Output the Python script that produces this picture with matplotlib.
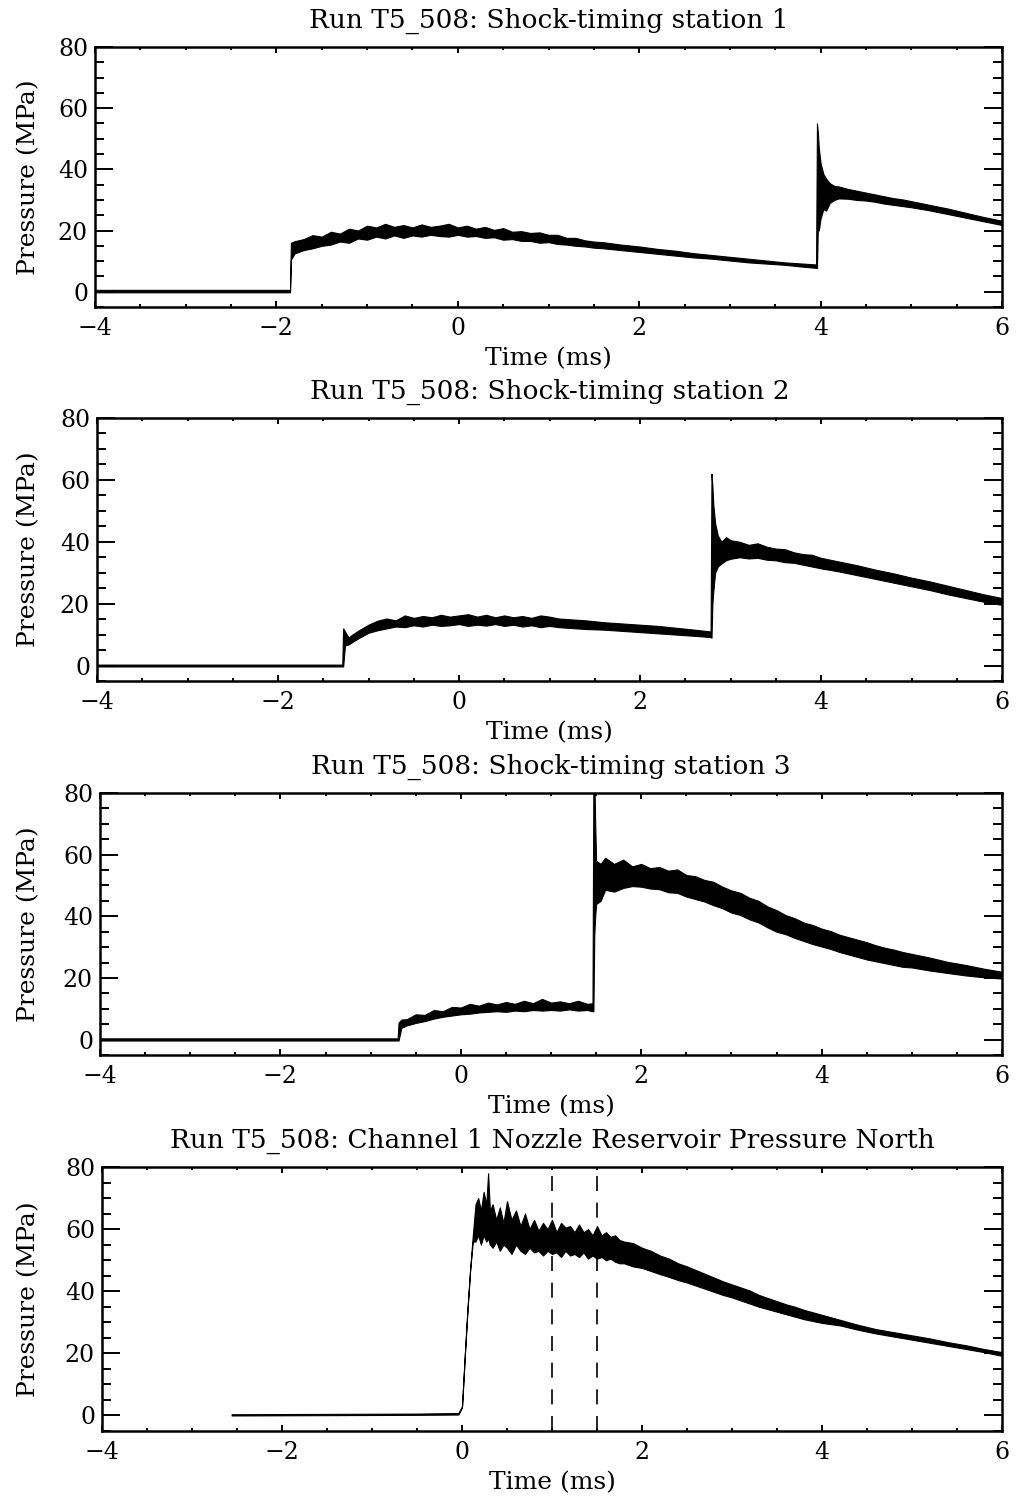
import numpy as np
import matplotlib.pyplot as plt
from matplotlib.ticker import MultipleLocator

plt.rcParams['font.family'] = 'DejaVu Serif'

# Shock-timing station 1: time (ms), lower and upper edge of the noisy trace (MPa)
t1 = [-4.0, -1.85, -1.84, -1.8, -1.7, -1.6, -1.5, -1.4, -1.3, -1.2, -1.1, -1.0, -0.9, -0.8, -0.7, -0.6,
      -0.5, -0.4, -0.3, -0.2, -0.1, 0.0, 0.1, 0.2, 0.3, 0.4, 0.5, 0.6, 0.7, 0.8, 0.9, 1.0, 1.1, 1.2,
      1.3, 1.4, 1.5, 1.6, 1.8, 2.0, 2.2, 2.4, 2.6, 2.8, 3.0, 3.2, 3.4, 3.6, 3.8, 3.95, 3.96, 3.97, 3.98,
      4.0, 4.03, 4.06, 4.1, 4.15, 4.2, 4.3, 4.4, 4.5, 4.6, 4.7, 4.8, 4.9, 5.0, 5.2, 5.4, 5.6, 5.8, 6.0]
hi1 = [0.6, 0.6, 16.0, 16.5, 17.2, 18.5, 18.0, 19.6, 19.0, 20.6, 20.0, 21.6, 21.0, 22.2, 21.2, 21.8,
       21.0, 22.0, 21.2, 21.6, 22.2, 21.0, 21.6, 20.6, 21.2, 20.2, 20.8, 19.6, 19.8, 19.2, 19.4, 18.6,
       18.6, 17.6, 17.6, 16.8, 16.4, 16.2, 15.4, 14.8, 14.0, 13.4, 12.6, 12.0, 11.4, 10.8, 10.2, 9.6,
       9.2, 8.9, 55.0, 52.0, 47.0, 42.0, 38.5, 37.0, 35.5, 34.6, 34.4, 33.6, 33.0, 32.4, 31.8, 31.2,
       30.6, 30.2, 29.6, 28.4, 27.2, 25.8, 24.4, 23.2]
lo1 = [-0.2, -0.2, 10.5, 12.5, 13.6, 14.2, 15.0, 15.4, 16.4, 16.0, 17.4, 17.0, 18.0, 17.4, 18.4, 17.6,
       18.4, 18.0, 18.6, 18.2, 18.0, 18.6, 18.0, 18.2, 17.6, 17.8, 17.0, 17.2, 16.6, 16.6, 16.0, 16.2,
       15.6, 15.4, 15.0, 14.8, 14.4, 14.2, 13.6, 13.0, 12.4, 11.8, 11.2, 10.8, 10.2, 9.6, 9.2, 8.8,
       8.2, 7.8, 7.8, 22.0, 20.0, 24.0, 27.0, 26.5, 29.0, 30.0, 30.5, 30.4, 30.0, 29.8, 29.4, 28.8,
       28.4, 28.0, 27.6, 26.6, 25.4, 24.2, 23.0, 21.8]

# Shock-timing station 2
t2 = [-4.0, -1.29, -1.28, -1.26, -1.22, -1.18, -1.1, -1.0, -0.9, -0.8, -0.7, -0.6, -0.5, -0.4, -0.3,
      -0.2, -0.1, 0.0, 0.1, 0.2, 0.3, 0.4, 0.5, 0.6, 0.7, 0.8, 0.9, 1.0, 1.1, 1.2, 1.4, 1.6, 1.8, 2.0,
      2.2, 2.4, 2.6, 2.78, 2.79, 2.80, 2.81, 2.83, 2.86, 2.9, 2.95, 3.0, 3.1, 3.2, 3.3, 3.4, 3.5, 3.6,
      3.7, 3.8, 3.9, 4.0, 4.2, 4.4, 4.6, 4.8, 5.0, 5.2, 5.4, 5.6, 5.8, 6.0]
hi2 = [0.3, 0.3, 12.0, 11.0, 9.0, 10.0, 11.5, 13.2, 14.5, 15.2, 14.6, 16.2, 15.4, 16.0, 15.6, 16.4,
       15.8, 16.2, 16.6, 15.8, 16.4, 15.6, 16.2, 15.6, 16.0, 15.4, 16.2, 15.8, 15.2, 15.0, 14.6, 14.0,
       13.6, 13.2, 12.8, 12.2, 11.6, 11.0, 62.0, 58.0, 52.0, 46.0, 42.0, 40.0, 41.5, 40.5, 40.0, 39.0,
       39.5, 38.4, 37.8, 37.6, 36.6, 36.0, 35.8, 34.8, 33.6, 32.4, 31.0, 29.8, 28.4, 27.2, 25.8, 24.4,
       23.0, 21.8]
lo2 = [-0.3, -0.3, -0.3, 6.5, 6.8, 7.6, 9.0, 10.6, 11.4, 12.0, 12.6, 12.4, 13.0, 12.6, 13.2, 12.8,
       13.0, 13.4, 12.8, 13.2, 12.9, 13.4, 12.8, 13.2, 12.6, 13.0, 12.4, 12.8, 12.4, 12.2, 11.8, 11.6,
       11.2, 10.8, 10.4, 10.0, 9.6, 9.2, 9.0, 20.0, 24.0, 30.0, 32.0, 33.0, 34.0, 34.5, 35.0, 34.6,
       34.8, 34.2, 34.0, 33.4, 33.2, 32.6, 32.0, 31.4, 30.4, 29.2, 28.0, 26.8, 25.6, 24.4, 23.0, 21.8,
       20.6, 19.6]

# Shock-timing station 3
t3 = [-4.0, -0.70, -0.69, -0.66, -0.6, -0.5, -0.4, -0.3, -0.2, -0.1, 0.0, 0.1, 0.2, 0.3, 0.4, 0.5,
      0.6, 0.7, 0.8, 0.9, 1.0, 1.1, 1.2, 1.3, 1.4, 1.46, 1.47, 1.48, 1.49, 1.5, 1.55, 1.6, 1.7, 1.8,
      1.9, 2.0, 2.1, 2.2, 2.3, 2.4, 2.5, 2.6, 2.7, 2.8, 2.9, 3.0, 3.1, 3.2, 3.3, 3.4, 3.5, 3.6, 3.7,
      3.8, 3.9, 4.0, 4.1, 4.2, 4.3, 4.4, 4.5, 4.6, 4.7, 4.8, 4.9, 5.0, 5.2, 5.4, 5.6, 5.8, 6.0]
hi3 = [0.4, 0.4, 5.5, 6.5, 6.6, 8.2, 8.0, 9.6, 9.2, 10.6, 10.4, 11.6, 11.0, 12.0, 11.4, 12.2, 11.6,
       12.6, 11.8, 13.2, 12.0, 12.4, 11.8, 12.6, 11.6, 11.8, 86.0, 86.0, 70.0, 58.0, 57.0, 59.0, 57.0,
       58.4, 56.2, 57.0, 55.6, 56.0, 54.8, 55.2, 53.4, 53.0, 51.8, 51.2, 49.6, 48.4, 47.6, 46.0, 45.0,
       43.2, 42.0, 40.4, 39.4, 38.0, 37.2, 36.0, 35.2, 34.0, 33.2, 32.4, 31.6, 30.6, 29.8, 29.2, 28.4,
       27.8, 26.6, 25.2, 24.2, 23.0, 22.0]
lo3 = [-0.3, -0.3, -0.3, 3.8, 4.6, 5.4, 6.0, 6.8, 7.4, 7.8, 8.2, 8.4, 8.8, 9.0, 9.2, 9.0, 9.4, 9.2,
       9.6, 9.4, 9.6, 9.4, 9.8, 9.4, 9.6, 9.2, 9.2, 34.0, 40.0, 44.0, 45.0, 48.6, 48.0, 49.2, 49.8,
       49.6, 49.0, 48.8, 47.8, 47.6, 46.4, 45.6, 44.8, 43.6, 42.6, 41.2, 40.4, 39.0, 38.0, 36.4, 35.0,
       34.2, 33.0, 32.0, 31.0, 30.2, 29.4, 28.4, 27.6, 26.8, 26.0, 25.4, 24.8, 24.2, 23.6, 23.4, 22.4,
       21.6, 20.8, 20.2, 19.8]

# Channel 1 nozzle reservoir pressure north
t4 = [-2.56, -0.5, -0.04, 0.0, 0.03, 0.06, 0.09, 0.12, 0.15, 0.18, 0.21, 0.24, 0.27, 0.29, 0.31,
      0.34, 0.38, 0.42, 0.46, 0.5, 0.55, 0.6, 0.65, 0.7, 0.75, 0.8, 0.85, 0.9, 0.95, 1.0, 1.05, 1.1,
      1.15, 1.2, 1.25, 1.3, 1.35, 1.4, 1.45, 1.5, 1.55, 1.6, 1.65, 1.7, 1.75, 1.8, 1.9, 2.0, 2.1, 2.2,
      2.3, 2.4, 2.5, 2.6, 2.7, 2.8, 2.9, 3.0, 3.1, 3.2, 3.3, 3.4, 3.5, 3.6, 3.7, 3.8, 3.9, 4.0, 4.2,
      4.4, 4.6, 4.8, 5.0, 5.2, 5.4, 5.6, 5.8, 6.0]
hi4 = [0.4, 0.6, 0.8, 3.0, 19.0, 34.0, 47.0, 58.0, 68.0, 70.0, 66.0, 72.0, 68.0, 78.0, 66.0, 68.0,
       63.0, 67.0, 62.0, 69.0, 63.0, 66.0, 61.0, 65.0, 60.0, 63.0, 59.5, 62.0, 60.0, 63.0, 59.0, 62.0,
       60.5, 61.0, 59.0, 61.5, 59.0, 60.0, 58.0, 61.0, 58.0, 59.0, 57.5, 58.0, 56.5, 56.0, 55.5, 54.0,
       53.0, 51.5, 50.5, 49.0, 48.0, 46.8, 45.6, 44.4, 43.2, 42.2, 41.2, 40.2, 38.8, 37.8, 36.8, 35.8,
       35.0, 34.0, 33.2, 32.4, 30.8, 29.2, 27.8, 26.8, 25.8, 24.8, 23.6, 22.6, 21.4, 20.4]
lo4 = [0.0, 0.2, 0.3, 2.6, 18.6, 33.6, 46.6, 56.0, 56.0, 58.0, 55.0, 58.0, 56.0, 57.0, 55.0, 54.0,
       56.0, 53.0, 55.0, 54.0, 52.0, 55.0, 53.0, 52.0, 54.0, 52.5, 53.0, 51.5, 53.0, 52.0, 52.5, 51.0,
       53.0, 51.5, 52.0, 51.0, 52.5, 50.5, 51.5, 50.5, 51.0, 50.0, 50.5, 49.5, 49.0, 49.0, 48.0, 47.5,
       46.5, 45.5, 44.6, 43.6, 42.8, 41.8, 40.8, 39.8, 38.8, 38.0, 37.0, 36.0, 35.0, 34.2, 33.4, 32.6,
       31.8, 31.0, 30.4, 29.8, 29.0, 27.6, 26.4, 25.4, 24.4, 23.4, 22.4, 21.4, 20.4, 19.2]

# dashed markers on the reservoir trace (ms)
marks4 = [1.0, 1.5]

titles = ['Run T5_508: Shock-timing station 1',
          'Run T5_508: Shock-timing station 2',
          'Run T5_508: Shock-timing station 3',
          'Run T5_508: Channel 1 Nozzle Reservoir Pressure North']
ts = [t1, t2, t3, t4]
his = [hi1, hi2, hi3, hi4]
los = [lo1, lo2, lo3, lo4]

W, H = 1019, 1500
fig = plt.figure(figsize=(W / 100, H / 100), dpi=100)
# left, top, bottom of each plot box in pixels
boxes = [(95, 47, 307), (97, 418, 681), (100, 793, 1055), (102, 1167, 1431)]
right = 1002

for i in range(4):
    l, top, bot = boxes[i]
    ax = fig.add_axes([l / W, 1 - bot / H, (right - l) / W, (bot - top) / H])
    ax.fill_between(ts[i], los[i], his[i], color='black', lw=0.8)
    if i == 3:
        for m in marks4:
            ax.axvline(m, color='black', lw=1.2, ls=(0, (9, 7)))
    ax.set_xlim(-4, 6)
    ax.set_ylim(-5, 80)
    ax.xaxis.set_major_locator(MultipleLocator(2))
    ax.xaxis.set_minor_locator(MultipleLocator(0.5))
    ax.yaxis.set_major_locator(MultipleLocator(20))
    ax.yaxis.set_minor_locator(MultipleLocator(5))
    ax.tick_params(which='both', direction='in', top=True, right=True, width=1.4, labelsize=17)
    ax.tick_params(axis='x', which='major', length=4, pad=7.5)
    ax.tick_params(axis='x', which='minor', length=2)
    ax.tick_params(axis='y', which='major', length=13, pad=5)
    ax.tick_params(axis='y', which='minor', length=6.5)
    for s in ax.spines.values():
        s.set_linewidth(1.8)
    ax.set_title(titles[i], fontsize=19, pad=14)
    ax.set_xlabel('Time (ms)', fontsize=18, labelpad=5)
    ax.set_ylabel('Pressure (MPa)', fontsize=18)
    # right edge of the rotated label ~40 px from the figure's left edge
    ax.yaxis.set_label_coords((40 - l) / (right - l), 0.5)

fig.savefig('out.png', dpi=100)
